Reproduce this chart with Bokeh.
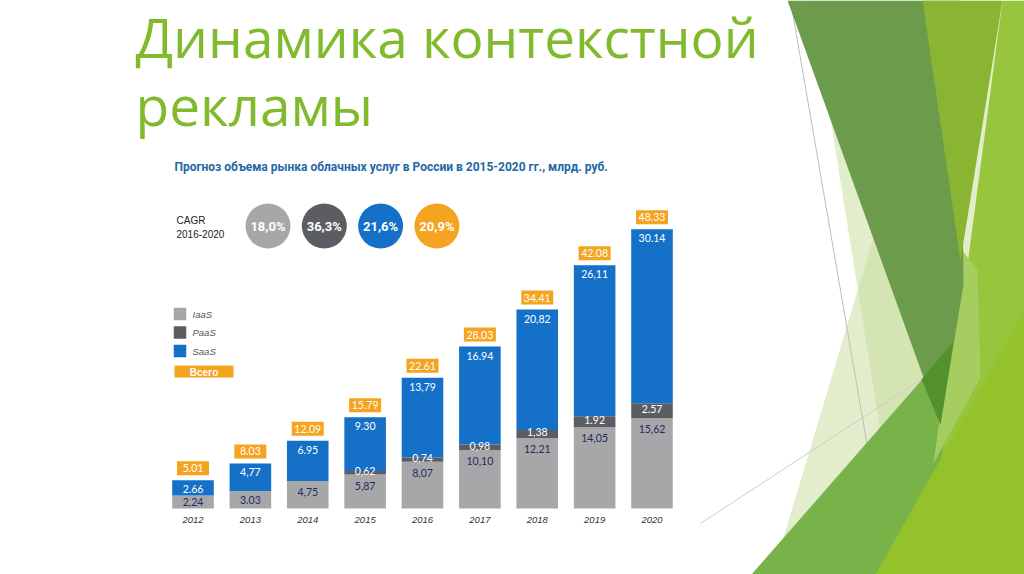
from bokeh.plotting import figure
from bokeh.models import Range1d, ColumnDataSource
from bokeh.core.properties import value
from bokeh.embed import file_html
from bokeh.resources import INLINE

# ---------------- data ----------------
years = [2012, 2013, 2014, 2015, 2016, 2017, 2018, 2019, 2020]
year_labels = ["2012", "2013", "2014", "2015", "2016", "2017", "2018", "2019", "2020"]
iaas = [2.24, 3.03, 4.75, 5.87, 8.07, 10.10, 12.21, 14.05, 15.62]
paas = [0.0, 0.0, 0.0, 0.62, 0.74, 0.98, 1.38, 1.92, 2.57]
saas = [2.66, 4.77, 6.95, 9.30, 13.79, 16.94, 20.82, 26.11, 30.14]
total = [5.01, 8.03, 12.09, 15.79, 22.61, 28.03, 34.41, 42.08, 48.33]
iaas_labels = ["2,24", "3.03", "4,75", "5,87", "8,07", "10,10", "12,21", "14,05", "15,62"]
paas_labels = ["", "", "", "0,62", "0,74", "0,98", "1,38", "1.92", "2.57"]
saas_labels = ["2.66", "4,77", "6.95", "9.30", "13,79", "16.94", "20,82", "26,11", "30.14"]
total_labels = ["5.01", "8.03", "12.09", "15.79", "22.61", "28.03", "34.41", "42.08", "48.33"]
legend_labels = ["IaaS", "PaaS", "SaaS", "Всего"]
cagr_labels = ["18,0%", "36,3%", "21,6%", "20,9%"]
title_lines = ["Динамика контекстной", "рекламы"]
subtitle = "Прогноз объема рынка облачных услуг в России в 2015-2020 гг., млрд. руб."

# ---------------- styles ----------------
C_IAAS = "#a7a7aa"
C_PAAS = "#5c5c63"
C_SAAS = "#1570c8"
C_TOT = "#f4a41e"
C_NAVY = "#1d2d5e"
GREEN = "#82ba2d"
COND = "Roboto"
LBL = "Lato"

W, H = 1024, 574
OFF = 0
X0_PAGE, DX_PAGE = 192.5, 57.375   # centre of first bar, spacing (page px)
BASE_PAGE, PPU = 508.0, 5.78       # baseline y, pixels per unit

x_start = years[0] + (OFF - X0_PAGE) / DX_PAGE
x_end = years[0] + (OFF + W - X0_PAGE) / DX_PAGE
y_end = (BASE_PAGE - OFF) / PPU
y_start = -(OFF + H - BASE_PAGE) / PPU

p = figure(width=W, height=H, output_backend="svg", toolbar_location=None,
           x_range=Range1d(x_start, x_end), y_range=Range1d(y_start, y_end),
           x_axis_location=None, y_axis_location=None, min_border=0,
           outline_line_color=None, background_fill_color="white",
           border_fill_color="white")
p.grid.visible = False
p.extra_x_ranges = {"px": Range1d(OFF, OFF + W)}
p.extra_y_ranges = {"px": Range1d(OFF + H, OFF)}
PX = dict(x_range_name="px", y_range_name="px")

# ---------------- decorative slide shapes (page px) ----------------
deco = [
    ("#c5dc9a", 0.5, [811, 903, 1000, 1000], [0, 574, 574, 0]),
    ("#c5dc9a", 0.5, [772, 905, 1000], [574, 130, 574]),
]
for col, a, xs, ys in deco:
    p.patch(xs, ys, fill_color=col, fill_alpha=a, line_color=None, **PX)
p.line([790, 889], [0, 574], line_color="#bdbdbd", line_width=1, **PX)
p.line([700, 922], [523, 378], line_color="#cccccc", line_width=1, **PX)
deco2 = [
    ("#78b34a", [751, 1024, 1024], [574, 262, 574]),
    ("#97c53d", [1002, 1024, 1024, 926], [0, 0, 574, 574]),
    ("#93c22b", [875, 1024, 1024], [574, 310, 574]),
    ("#a6cd60", [962, 977, 980, 933], [250, 270, 377, 463]),
    ("#6c9b4b", [787, 960, 963, 940], [0, 0, 284, 424]),
    ("#53902e", [921, 953, 940], [379, 341, 424]),
    ("#89b532", [922, 1002, 960], [0, 0, 260]),
]
for col, xs, ys in deco2:
    p.patch(xs, ys, fill_color=col, line_color=None, **PX)

# ---------------- titles ----------------
p.text(x=[135, 135], y=[36, 104], text=title_lines, text_font=value("Open Sans"),
       text_font_size="55px", text_color=GREEN, text_baseline="middle", **PX)
p.text(x=[174], y=[166], text=[subtitle], text_font=value(COND), text_font_style="bold",
       text_font_size="12px", text_color="#2467a6", text_baseline="middle", **PX)

# CAGR block
p.text(x=[176, 176], y=[220, 233], text=["CAGR", "2016-2020"], text_font=value("Liberation Sans"),
       text_font_size="10px", text_color="#222222", text_baseline="middle", **PX)
cx = [267.5 + 56.3 * i for i in range(4)]
p.scatter(x=cx, y=[225.5] * 4, size=45, marker="circle",
          fill_color=[C_IAAS, C_PAAS, C_SAAS, C_TOT], line_color=None, **PX)
p.text(x=cx, y=[226] * 4, text=cagr_labels, text_font=value(COND), text_font_style="bold",
       text_font_size="13px", text_color="white", text_align="center", text_baseline="middle", **PX)

# legend
ly = [313.5, 332.0, 350.5]
p.rect(x=[179.5] * 3, y=ly, width=12.5, height=12.5, fill_color=[C_IAAS, C_PAAS, C_SAAS],
       line_color=None, **PX)
p.text(x=[192] * 3, y=ly, text=legend_labels[:3], text_font=value("Liberation Sans"),
       text_font_style="italic", text_font_size="9.5px", text_color="#555555",
       text_baseline="middle", **PX)
p.rect(x=[203.5], y=[371], width=59, height=12, fill_color=C_TOT, line_color=None, **PX)
p.text(x=[203.5], y=[371.5], text=legend_labels[3:], text_font=value("Liberation Sans"),
       text_font_style="bold", text_font_size="10px", text_color="white",
       text_align="center", text_baseline="middle", **PX)

# ---------------- bars ----------------
src = ColumnDataSource(dict(year=years, iaas=iaas, paas=paas, saas=saas))
p.vbar_stack(["iaas", "paas", "saas"], x="year", width=0.725, source=src,
             fill_color=[C_IAAS, C_PAAS, C_SAAS], line_color=None)

tops = [a + b + c for a, b, c in zip(iaas, paas, saas)]
iaas_y = [max(v - 11 / PPU, v / 2) for v in iaas]
paas_y = [a + b / 2 + 0.3 for a, b in zip(iaas, paas)]
saas_y = [t - 9 / PPU for t in tops]
tot_y = [t + 12 / PPU for t in tops]

lab = dict(text_font=value(LBL), text_font_size="10.5px", text_align="center", text_baseline="middle")
p.text(x=years, y=iaas_y, text=iaas_labels, text_color=C_NAVY, **lab)
p.text(x=years, y=paas_y, text=paas_labels, text_color="white", **lab)
p.text(x=years, y=saas_y, text=saas_labels, text_color="white", **lab)
p.rect(x=years, y=tot_y, width=32, height=14, width_units="screen", height_units="screen",
       fill_color=C_TOT, line_color=None)
p.text(x=years, y=tot_y, text=total_labels, text_color="white", **lab)

# year labels
p.text(x=years, y=[-11 / PPU] * len(years), text=year_labels, text_font=value("Liberation Sans"),
       text_font_style="italic", text_font_size="9.5px", text_color="#333333",
       text_align="center", text_baseline="middle")

open("out.html", "w").write(file_html(p, INLINE))
